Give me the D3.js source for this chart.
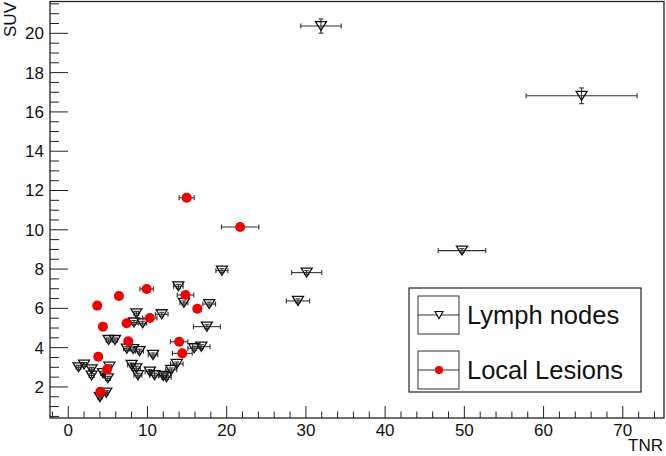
<!DOCTYPE html>
<html>
<head>
<meta charset="utf-8">
<script src="https://cdn.jsdelivr.net/npm/d3@7"></script>
<style>
  body { margin: 0; background: #fff; }
  svg { display: block; font-family: "Liberation Sans", Arial, sans-serif; }
</style>
</head>
<body>
<svg width="666" height="456"></svg>
<script>
// Lymph nodes (open down-triangles)
const lymphX = [31.9, 64.8, 49.7, 30.1, 29.0, 19.4, 13.9, 14.6, 17.8, 8.6, 11.8, 9.4, 8.3, 17.5,
  5.1, 5.9, 7.4, 8.2, 9.0, 10.7, 15.9, 16.8, 1.3, 2.0, 2.95, 2.95, 4.4, 5.2, 5.0,
  8.0, 8.6, 8.8, 10.3, 10.9, 12.0, 12.4, 13.0, 13.7, 4.0, 4.8];
const lymphY = [20.37, 16.82, 8.94, 7.82, 6.38, 7.92, 7.12, 6.28, 6.22, 5.75, 5.70, 5.24, 5.28, 5.07,
  4.39, 4.39, 3.95, 3.93, 3.82, 3.63, 3.97, 4.05, 3.0, 3.14, 2.9, 2.58, 2.7, 3.03, 2.44,
  3.12, 2.95, 2.6, 2.78, 2.6, 2.56, 2.49, 2.87, 3.17, 1.48, 1.71];
const lymphXErr = [2.55, 7.0, 3.0, 1.9, 1.47, 0.76, 0.6, 0.5, 0.8, 0.3, 0.8, 0.5, 0.4, 1.7,
  0.3, 0.3, 0.4, 0.4, 0.5, 0.6, 0.8, 1.1, 0.3, 0.3, 0.3, 0.3, 0.3, 0.3, 0.3,
  0.5, 0.5, 0.5, 0.6, 0.6, 0.6, 0.6, 0.7, 0.8, 0.2, 0.2];
const lymphYErr = [0.36, 0.4, 0.1, 0.1, 0.1, 0.1, 0.1, 0.1, 0.1, 0.1, 0.1, 0.1, 0.1, 0.1,
  0.1, 0.1, 0.1, 0.1, 0.1, 0.1, 0.1, 0.1, 0.1, 0.1, 0.1, 0.1, 0.1, 0.1, 0.1,
  0.1, 0.1, 0.1, 0.1, 0.1, 0.1, 0.1, 0.1, 0.1, 0.1, 0.1];

// Local lesions (filled red circles)
const lesionX = [3.66, 6.4, 9.9, 14.8, 16.3, 4.38, 7.37, 10.3, 7.58, 14.0, 14.4, 3.79, 4.92, 4.05, 14.95, 21.7];
const lesionY = [6.14, 6.63, 6.99, 6.68, 5.98, 5.07, 5.24, 5.51, 4.33, 4.3, 3.71, 3.54, 2.9, 1.75, 11.63, 10.14];
const lesionXErr = [0.3, 0.3, 0.85, 1.05, 0.5, 0.3, 0.4, 0.9, 0.4, 1.1, 1.25, 0.3, 0.3, 0.3, 0.95, 2.36];
const lesionYErr = [0.1, 0.1, 0.1, 0.1, 0.1, 0.1, 0.1, 0.1, 0.1, 0.1, 0.1, 0.1, 0.1, 0.1, 0.12, 0.1];

const xTicks = [0, 10, 20, 30, 40, 50, 60, 70];
const yTicks = [2, 4, 6, 8, 10, 12, 14, 16, 18, 20];
const legendLabels = ["Lymph nodes", "Local Lesions"];

const frame = { left: 50, right: 664, top: 1.5, bottom: 418 };
const svg = d3.select("svg");

const x = d3.scaleLinear().domain([-2.3, 75.2]).range([frame.left, frame.right]);
const y = d3.scaleLinear().domain([0.42, 21.62]).range([frame.bottom, frame.top]);

// frame box
svg.append("rect")
  .attr("x", frame.left).attr("y", frame.top)
  .attr("width", frame.right - frame.left).attr("height", frame.bottom - frame.top)
  .attr("fill", "none").attr("stroke", "#222").attr("stroke-width", 1.3);

// x axis ticks (major + minor every 2)
const xMinor = d3.range(-2, 75.2, 2).filter(v => v % 10 !== 0);
const xAxisG = svg.append("g").attr("stroke", "#222").attr("stroke-width", 1);
xAxisG.selectAll("line.major").data(xTicks).enter().append("line")
  .attr("x1", d => x(d)).attr("x2", d => x(d))
  .attr("y1", frame.bottom).attr("y2", frame.bottom - 12);
xAxisG.selectAll("line.minor").data(xMinor).enter().append("line")
  .attr("x1", d => x(d)).attr("x2", d => x(d))
  .attr("y1", frame.bottom).attr("y2", frame.bottom - 6.5);
svg.selectAll("text.xlab").data(xTicks).enter().append("text")
  .attr("x", d => x(d)).attr("y", 436)
  .attr("text-anchor", "middle").attr("font-size", 17).attr("fill", "#111")
  .text(d => d);

// y axis ticks (major every 2, minor every 0.5)
const yMinor = d3.range(0.5, 21.62, 0.5).filter(v => v % 2 !== 0);
const yAxisG = svg.append("g").attr("stroke", "#222").attr("stroke-width", 1);
yAxisG.selectAll("line.major").data(yTicks).enter().append("line")
  .attr("x1", frame.left).attr("x2", frame.left + 18)
  .attr("y1", d => y(d)).attr("y2", d => y(d));
yAxisG.selectAll("line.minor").data(yMinor).enter().append("line")
  .attr("x1", frame.left).attr("x2", frame.left + 9)
  .attr("y1", d => y(d)).attr("y2", d => y(d));
svg.selectAll("text.ylab").data(yTicks).enter().append("text")
  .attr("x", 44).attr("y", d => y(d) + 6)
  .attr("text-anchor", "end").attr("font-size", 17).attr("fill", "#111")
  .text(d => d);

// axis titles
svg.append("text").attr("x", 663).attr("y", 451)
  .attr("text-anchor", "end").attr("font-size", 17).attr("fill", "#111").text("TNR");
svg.append("text").attr("transform", "translate(16,2) rotate(-90)")
  .attr("text-anchor", "end").attr("font-size", 17).attr("fill", "#111").text("SUV");

// error bars with end caps
function drawErrors(xs, ys, xe, ye) {
  const g = svg.append("g").attr("stroke", "#333").attr("stroke-width", 1.1);
  xs.forEach((v, i) => {
    const cx = x(v), cy = y(ys[i]);
    const x0 = x(v - xe[i]), x1 = x(v + xe[i]);
    const y0 = y(ys[i] - ye[i]), y1 = y(ys[i] + ye[i]);
    g.append("line").attr("x1", x0).attr("x2", x1).attr("y1", cy).attr("y2", cy);
    g.append("line").attr("x1", x0).attr("x2", x0).attr("y1", cy - 2.5).attr("y2", cy + 2.5);
    g.append("line").attr("x1", x1).attr("x2", x1).attr("y1", cy - 2.5).attr("y2", cy + 2.5);
    g.append("line").attr("x1", cx).attr("x2", cx).attr("y1", y0).attr("y2", y1);
    g.append("line").attr("x1", cx - 2.5).attr("x2", cx + 2.5).attr("y1", y0).attr("y2", y0);
    g.append("line").attr("x1", cx - 2.5).attr("x2", cx + 2.5).attr("y1", y1).attr("y2", y1);
  });
}

function triPath(cx, cy, w, h) {
  return `M${cx - w / 2},${cy - h / 2}L${cx + w / 2},${cy - h / 2}L${cx},${cy + h / 2}Z`;
}

drawErrors(lymphX, lymphY, lymphXErr, lymphYErr);
svg.append("g").selectAll("path").data(lymphX).enter().append("path")
  .attr("d", (d, i) => triPath(x(d), y(lymphY[i]), 11, 9))
  .attr("fill", "none").attr("stroke", "#111").attr("stroke-width", 1.3);

drawErrors(lesionX, lesionY, lesionXErr, lesionYErr);
svg.append("g").selectAll("circle").data(lesionX).enter().append("circle")
  .attr("cx", d => x(d)).attr("cy", (d, i) => y(lesionY[i]))
  .attr("r", 5).attr("fill", "#f20000");

// legend
const leg = svg.append("g");
leg.append("rect").attr("x", 409).attr("y", 288).attr("width", 232).attr("height", 104)
  .attr("fill", "#fff").attr("stroke", "#222").attr("stroke-width", 1.2);
const rowY = [315, 370];
rowY.forEach((ry, i) => {
  leg.append("rect").attr("x", 418).attr("y", ry - 19).attr("width", 41).attr("height", 38)
    .attr("fill", "none").attr("stroke", "#333").attr("stroke-width", 1);
  leg.append("line").attr("x1", 418).attr("x2", 459).attr("y1", ry).attr("y2", ry)
    .attr("stroke", "#333").attr("stroke-width", 1);
  leg.append("text").attr("x", 467).attr("y", ry + 9)
    .attr("font-size", 25.5).attr("fill", "#111").text(legendLabels[i]);
});
leg.append("path").attr("d", triPath(439, rowY[0], 8, 7))
  .attr("fill", "#fff").attr("stroke", "#111").attr("stroke-width", 1.2);
leg.append("circle").attr("cx", 439).attr("cy", rowY[1]).attr("r", 4).attr("fill", "#f20000");
</script>
</body>
</html>
